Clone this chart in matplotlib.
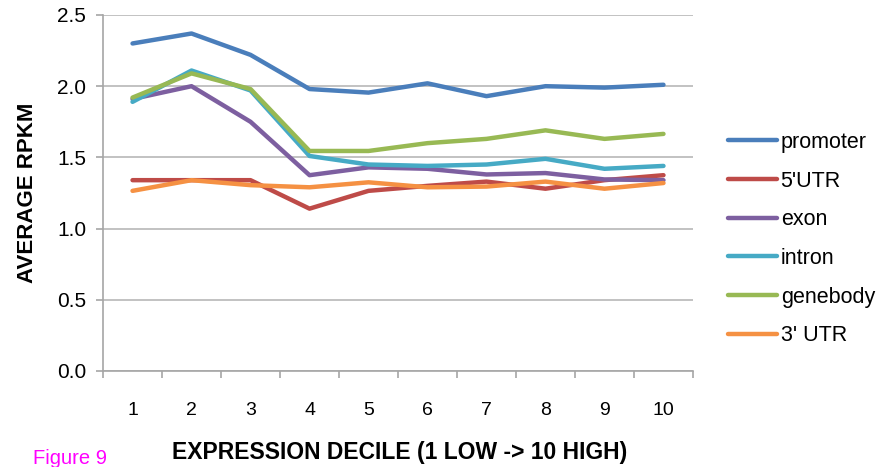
import matplotlib
matplotlib.use("Agg")
import matplotlib.pyplot as plt

deciles = [1, 2, 3, 4, 5, 6, 7, 8, 9, 10]

promoter = [2.30, 2.37, 2.22, 1.98, 1.955, 2.02, 1.93, 2.00, 1.99, 2.01]
utr5 = [1.34, 1.34, 1.34, 1.14, 1.265, 1.30, 1.33, 1.28, 1.34, 1.375]
exon = [1.91, 2.00, 1.75, 1.375, 1.43, 1.42, 1.38, 1.39, 1.345, 1.34]
intron = [1.89, 2.11, 1.97, 1.51, 1.45, 1.44, 1.45, 1.49, 1.42, 1.44]
genebody = [1.92, 2.09, 1.98, 1.545, 1.545, 1.60, 1.63, 1.69, 1.63, 1.665]
utr3 = [1.265, 1.34, 1.305, 1.29, 1.325, 1.29, 1.295, 1.33, 1.28, 1.32]

series = [
    ("promoter", promoter, "#4A7EBB"),
    ("5'UTR", utr5, "#BE4B48"),
    ("exon", exon, "#7D5FA0"),
    ("intron", intron, "#46AAC5"),
    ("genebody", genebody, "#98B954"),
    ("3' UTR", utr3, "#F59143"),
]

plt.rcParams["font.family"] = ["Liberation Sans", "DejaVu Sans"]

fig = plt.figure(figsize=(8.89, 4.67), dpi=100)
ax = fig.add_axes([0.1159, 0.2056, 0.6636, 0.7623])

for name, vals, color in series:
    ax.plot(deciles, vals, color=color, linewidth=3.2, label=name,
            solid_capstyle="round", solid_joinstyle="round")

ax.set_xlim(0.5, 10.5)
ax.set_ylim(0, 2.5)
ax.set_yticks([0, 0.5, 1.0, 1.5, 2.0, 2.5])
ax.set_yticklabels([f"{v:.1f}" for v in [0, 0.5, 1.0, 1.5, 2.0, 2.5]], fontsize=15)
ax.set_xticks(deciles)
ax.set_xticklabels([str(d) for d in deciles], fontsize=14)
ax.set_xticks([d + 0.5 for d in range(0, 11)], minor=True)

ax.grid(axis="y", color="#B8B8B8", linewidth=1.2)
ax.set_axisbelow(True)
for side in ("top", "right"):
    ax.spines[side].set_visible(False)
for side in ("left", "bottom"):
    ax.spines[side].set_color("#A6A6A6")
    ax.spines[side].set_linewidth(1.2)

ax.tick_params(axis="y", length=5, color="#A6A6A6", width=1.2, pad=7)
ax.tick_params(axis="x", which="major", length=0, pad=22)
ax.tick_params(axis="x", which="minor", length=5, color="#A6A6A6", width=1.2)

ax.set_ylabel("AVERAGE RPKM", fontsize=16, fontweight="bold", labelpad=14)
fig.text(0.45, 0.032, "EXPRESSION DECILE (1 LOW -> 10 HIGH)", fontsize=16.5,
         fontweight="bold", ha="center", va="center")
fig.text(0.037, 0.018, "Figure 9", fontsize=14.5, color="#FF00FF",
         ha="left", va="center")

fig.legend(loc="center left", bbox_to_anchor=(0.797, 0.488), frameon=False,
           fontsize=15.5, handlelength=2.3, handletextpad=0.15,
           labelspacing=0.82)

fig.savefig("out.png", dpi=100)
